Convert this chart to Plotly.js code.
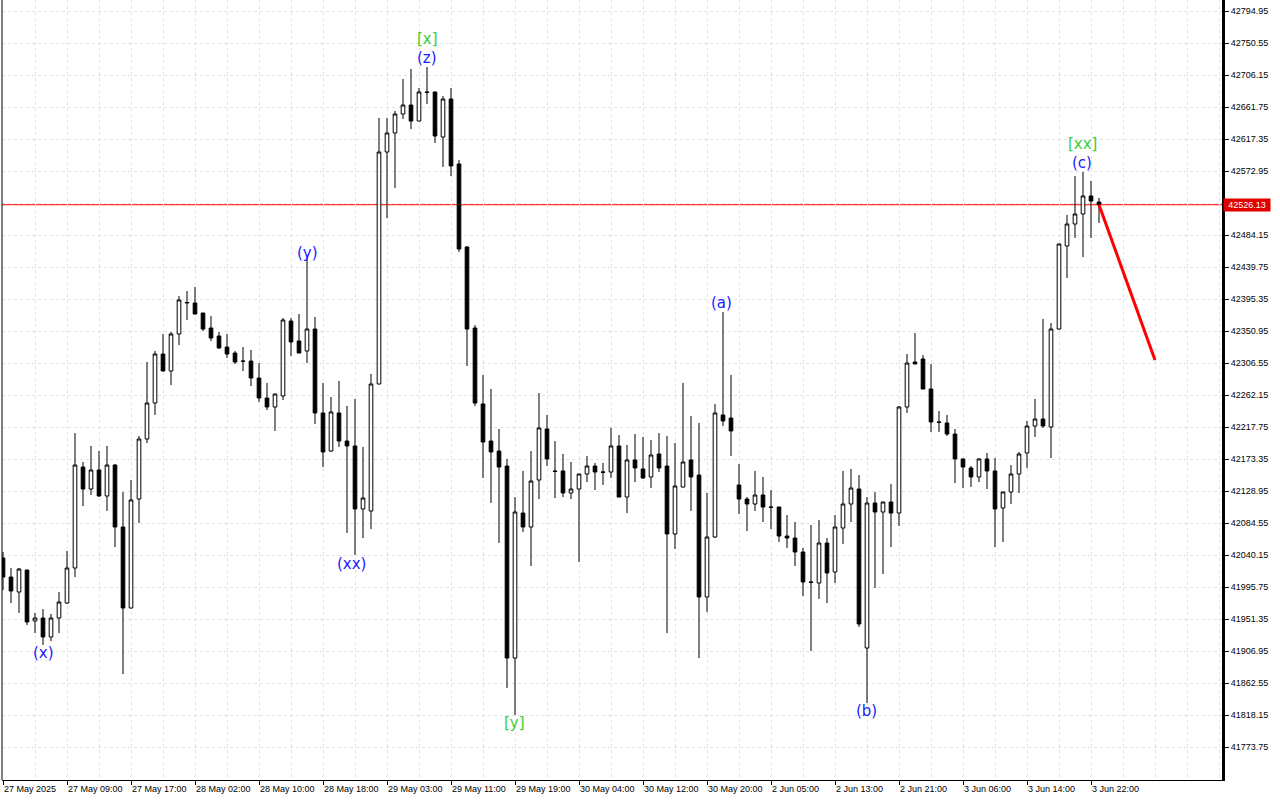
<!DOCTYPE html>
<html>
<head>
<meta charset="utf-8">
<script src="https://cdn.plot.ly/plotly-3.0.1.min.js"></script>
<style>
html,body{margin:0;padding:0;background:#fff;}
#chart{width:1280px;height:800px;}
</style>
</head>
<body>
<div id="chart"></div>
<script>
// ---- data (US30 hourly candles) ----
const openPrices = [
42036.0, 42009.6, 41988.8, 42019.3, 41948.6, 41952.7, 41926.4, 41952.7, 41973.5, 42022.1,
42162.2, 42131.7, 42158.1, 42122.0, 42165.0, 42079.0, 41966.6, 42117.8, 42201.1, 42251.0,
42319.0, 42295.4, 42346.8, 42389.8, 42389.8, 42375.9, 42355.1, 42344.0, 42328.7, 42320.4,
42309.3, 42309.3, 42285.7, 42258.0, 42245.5, 42260.8, 42364.8, 42337.1, 42323.2, 42353.7,
42237.2, 42184.4, 42237.2, 42198.3, 42191.4, 42104.0, 42101.2, 42277.4, 42599.3, 42625.7,
42652.0, 42664.5, 42642.3, 42682.6, 42682.6, 42620.1, 42672.8, 42582.7, 42467.5, 42355.1,
42249.7, 42198.3, 42184.4, 42163.6, 41897.2, 42098.4, 42079.0, 42144.2, 42215.0, 42156.7,
42156.7, 42126.2, 42131.7, 42152.5, 42163.6, 42155.3, 42155.3, 42191.4, 42120.6, 42172.0,
42159.5, 42148.4, 42180.3, 42163.6, 42069.3, 42134.5, 42172.0, 42151.1, 41981.9, 42065.1,
42234.4, 42230.2, 42137.3, 42117.8, 42110.9, 42123.4, 42106.7, 42106.7, 42066.5, 42063.7,
42044.3, 42002.7, 42001.3, 42056.8, 42016.6, 42077.6, 42110.9, 42131.7, 41911.1, 42112.3,
42099.8, 42113.7, 42098.4, 42245.5, 42307.9, 42312.1, 42270.5, 42224.7, 42223.3, 42208.0,
42173.4, 42160.9, 42148.4, 42173.4, 42156.7, 42105.4, 42127.6, 42152.5, 42181.7, 42219.1,
42228.8, 42217.8, 42353.7, 42468.9, 42499.4, 42513.3, 42538.3, 42529.9
];
const highPrices = [
42044.3, 42022.1, 42022.1, 42019.8, 41959.7, 41965.2, 41958.3, 41988.8, 42045.7, 42209.4,
42169.2, 42191.4, 42184.4, 42191.4, 42166.4, 42127.6, 42144.2, 42205.3, 42307.9, 42323.2,
42346.8, 42349.6, 42399.5, 42406.4, 42412.0, 42376.0, 42371.8, 42349.6, 42346.8, 42323.2,
42328.7, 42324.6, 42306.5, 42278.8, 42264.0, 42369.0, 42369.0, 42374.5, 42453.6, 42370.4,
42278.8, 42259.4, 42281.6, 42246.9, 42256.6, 42190.0, 42291.3, 42646.5, 42646.5, 42656.2,
42700.6, 42714.5, 42688.1, 42717.2, 42683.0, 42677.0, 42688.1, 42588.2, 42468.9, 42359.3,
42289.9, 42270.5, 42215.0, 42173.4, 42120.6, 42156.7, 42184.4, 42264.9, 42234.4, 42198.3,
42180.3, 42169.2, 42153.0, 42177.5, 42167.8, 42167.8, 42216.4, 42206.6, 42192.8, 42208.0,
42203.9, 42199.7, 42209.4, 42205.3, 42195.5, 42278.8, 42233.0, 42223.3, 42126.2, 42249.7,
42377.3, 42289.9, 42166.4, 42120.6, 42156.7, 42148.4, 42130.3, 42107.0, 42095.6, 42085.9,
42049.9, 42081.8, 42088.7, 42063.7, 42095.6, 42156.7, 42159.5, 42151.1, 42120.6, 42127.6,
42114.0, 42138.7, 42246.9, 42319.0, 42348.2, 42317.6, 42305.2, 42240.0, 42234.4, 42215.0,
42173.8, 42163.6, 42174.7, 42181.7, 42174.7, 42128.0, 42165.0, 42183.1, 42226.1, 42256.6,
42367.6, 42362.0, 42472.0, 42511.9, 42566.0, 42571.6, 42559.1, 42535.5
];
const lowPrices = [
41991.6, 41973.5, 41959.7, 41943.0, 41931.9, 41915.3, 41920.8, 41931.9, 41972.2, 42009.6,
42108.1, 42123.4, 42121.0, 42101.2, 42051.2, 41875.0, 41966.0, 42084.5, 42195.5, 42234.4,
42295.0, 42276.0, 42331.5, 42366.2, 42374.0, 42351.0, 42337.1, 42326.0, 42313.5, 42305.2,
42295.4, 42274.6, 42252.4, 42241.3, 42212.2, 42255.2, 42316.3, 42320.0, 42306.5, 42221.9,
42162.2, 42183.1, 42190.0, 42070.7, 42040.2, 42063.7, 42076.2, 42277.0, 42507.7, 42549.4,
42645.1, 42631.2, 42642.0, 42665.9, 42611.8, 42578.5, 42566.0, 42460.6, 42302.4, 42246.9,
42147.0, 42112.3, 42056.8, 41855.6, 41818.2, 42072.1, 42024.9, 42117.8, 42163.6, 42119.2,
42120.6, 42117.8, 42030.4, 42141.4, 42130.3, 42137.3, 42147.0, 42120.0, 42098.4, 42141.4,
42145.6, 42133.1, 42155.3, 41931.9, 42048.5, 42134.0, 42101.2, 41897.2, 41961.1, 42063.7,
42219.1, 42177.5, 42097.0, 42073.4, 42101.2, 42085.9, 42076.2, 42058.2, 42049.9, 42024.9,
41983.3, 41907.0, 41979.1, 41973.5, 42001.3, 42055.4, 42085.9, 41940.2, 41834.8, 41994.4,
42013.8, 42051.2, 42080.4, 42237.2, 42305.0, 42270.0, 42210.8, 42210.8, 42205.3, 42140.0,
42133.1, 42134.5, 42141.4, 42131.7, 42051.2, 42058.2, 42110.9, 42126.2, 42160.9, 42203.9,
42216.4, 42174.7, 42353.0, 42424.5, 42480.0, 42453.6, 42480.0, 42500.8
];
const closePrices = [
42009.6, 41990.2, 42020.7, 41947.2, 41952.7, 41926.4, 41952.7, 41974.9, 42022.1, 42165.0,
42131.7, 42158.1, 42122.0, 42165.0, 42079.0, 41966.6, 42116.5, 42201.1, 42251.0, 42319.0,
42295.4, 42346.8, 42394.0, 42390.5, 42374.5, 42353.7, 42341.2, 42327.4, 42319.0, 42307.9,
42309.0, 42285.7, 42258.0, 42245.5, 42263.5, 42366.2, 42335.7, 42320.4, 42353.7, 42237.2,
42183.1, 42238.6, 42198.3, 42191.4, 42104.0, 42119.2, 42277.4, 42599.3, 42625.7, 42652.0,
42664.5, 42642.3, 42682.6, 42682.0, 42621.5, 42672.8, 42579.9, 42464.7, 42353.7, 42251.0,
42196.9, 42183.1, 42162.2, 41897.2, 42099.8, 42079.0, 42142.8, 42216.4, 42173.4, 42156.2,
42126.2, 42131.7, 42152.5, 42163.6, 42155.3, 42155.0, 42191.4, 42120.6, 42172.0, 42160.9,
42147.0, 42178.9, 42160.9, 42069.3, 42135.9, 42169.2, 42148.4, 41981.9, 42065.1, 42237.2,
42226.1, 42212.2, 42117.8, 42110.9, 42123.4, 42106.7, 42106.3, 42066.5, 42063.7, 42044.3,
42002.7, 42002.3, 42056.8, 42015.2, 42079.0, 42110.9, 42133.1, 41944.4, 42112.3, 42099.8,
42113.7, 42098.4, 42245.5, 42306.5, 42305.2, 42270.5, 42224.7, 42224.3, 42208.0, 42173.4,
42162.2, 42148.4, 42173.4, 42156.7, 42104.0, 42127.6, 42152.5, 42180.3, 42219.1, 42228.8,
42219.1, 42353.7, 42471.7, 42499.4, 42513.3, 42538.3, 42531.3, 42526.13
];

// time axis labels (every 8th hourly bar)
const timeLabelBars = [0, 8, 16, 24, 32, 40, 48, 56, 64, 72, 80, 88, 96, 104, 112, 120, 128, 136];
const timeLabels = ["27 May 2025", "27 May 09:00", "27 May 17:00", "28 May 02:00", "28 May 10:00",
  "28 May 18:00", "29 May 03:00", "29 May 11:00", "29 May 19:00", "30 May 04:00", "30 May 12:00",
  "30 May 20:00", "2 Jun 05:00", "2 Jun 13:00", "2 Jun 21:00", "3 Jun 06:00", "3 Jun 14:00", "3 Jun 22:00"];

// price axis labels
const priceTicks = [41773.75, 41818.15, 41862.55, 41906.95, 41951.35, 41995.75, 42040.15, 42084.55,
  42128.95, 42173.35, 42217.75, 42262.15, 42306.55, 42350.95, 42395.35, 42439.75, 42484.15,
  42528.55, 42572.95, 42617.35, 42661.75, 42706.15, 42750.55, 42794.95];

// current price and forecast
const currentPrice = 42526.13;
const forecastBars = [137, 144];
const forecastPrices = [42526.13, 42310.7];

// wave labels
const waveText  = ["(x)", "(y)", "(xx)", "[x]", "(z)", "[y]", "(a)", "(b)", "[xx]", "(c)"];
const waveBar   = [5, 38, 43.6, 53, 53, 63.9, 89.75, 107.9, 134.9, 134.9];
const wavePrice = [41904.2, 42459.2, 42027.7, 42756.1, 42729.7, 41807.0, 42389.8, 41823.7, 42610.4, 42584.0];
const waveLevel = ["minor", "minor", "minor", "major", "minor", "major", "minor", "minor", "major", "minor"];

// ---- chart ----
const barIndex = openPrices.map((_, i) => i);

const candles = {
  type: 'candlestick',
  x: barIndex,
  open: openPrices, high: highPrices, low: lowPrices, close: closePrices,
  increasing: {line: {color: '#000000', width: 1}, fillcolor: '#ffffff'},
  decreasing: {line: {color: '#000000', width: 1}, fillcolor: '#000000'},
  whiskerwidth: 0,
  hoverinfo: 'skip',
  showlegend: false
};

const forecast = {
  type: 'scatter', mode: 'lines',
  x: forecastBars, y: forecastPrices,
  line: {color: '#ff0000', width: 3},
  hoverinfo: 'skip', showlegend: false
};

const annotations = waveText.map((t, i) => ({
  x: waveBar[i], y: wavePrice[i], xref: 'x', yref: 'y',
  text: t, showarrow: false,
  font: {family: 'DejaVu Sans, Verdana, sans-serif', size: 15,
         color: waveLevel[i] === 'major' ? '#3ccc3c' : '#1a1aff'}
}));
annotations.push({
  x: 1, xref: 'paper', xanchor: 'left', xshift: 1,
  y: currentPrice, yref: 'y', yanchor: 'middle',
  text: currentPrice.toFixed(2), showarrow: false,
  bgcolor: '#e00000', borderpad: 1, width: 44, align: 'center',
  font: {family: 'Liberation Sans, Arial, sans-serif', size: 9, color: '#ffffff'}
});

// the tick label next to the current-price box is hidden behind it in the picture
const priceTickText = priceTicks.map(v => Math.abs(v - currentPrice) < 10 ? '' : v.toFixed(2));

const gridStyle = {color: '#e2e2e2', dash: '3px,3px'};

const layout = {
  width: 1280, height: 800,
  margin: {l: 2, r: 58, t: 0, b: 20, pad: 0},
  paper_bgcolor: '#ffffff', plot_bgcolor: '#ffffff',
  boxgap: 0.35,
  showlegend: false,
  xaxis: {
    type: 'linear',
    range: [-0.125, 152.375],
    rangeslider: {visible: false},
    tickmode: 'array', tickvals: timeLabelBars, ticktext: timeLabels,
    ticks: 'outside', ticklen: 4, tickcolor: '#000000', tickwidth: 1,
    ticklabelposition: 'outside right',
    tickfont: {family: 'Liberation Sans, Arial, sans-serif', size: 9, color: '#000000'},
    showgrid: true, gridcolor: gridStyle.color, griddash: gridStyle.dash, gridwidth: 1,
    minor: {tick0: 0, dtick: 4, showgrid: true, gridcolor: gridStyle.color, griddash: gridStyle.dash, ticks: ''},
    showline: true, linecolor: '#000000', linewidth: 1,
    zeroline: false, fixedrange: true
  },
  yaxis: {
    side: 'right',
    range: [41727.96, 42810.21],
    tickmode: 'array', tickvals: priceTicks, ticktext: priceTickText,
    ticks: 'outside', ticklen: 4, tickcolor: '#000000', tickwidth: 1,
    tickfont: {family: 'Liberation Sans, Arial, sans-serif', size: 9, color: '#000000'},
    showgrid: true, gridcolor: gridStyle.color, griddash: gridStyle.dash, gridwidth: 1,
    showline: true, linecolor: '#000000', linewidth: 3,
    zeroline: false, fixedrange: true
  },
  shapes: [
    {type: 'line', xref: 'paper', x0: 0, x1: 1, yref: 'y', y0: currentPrice, y1: currentPrice,
     line: {color: '#ff0000', width: 1}, layer: 'below'},
    {type: 'line', xref: 'paper', x0: 0, x1: 0, yref: 'paper', y0: 0, y1: 1,
     line: {color: '#000000', width: 1}}
  ],
  annotations: annotations
};

Plotly.newPlot('chart', [candles, forecast], layout, {displayModeBar: false, staticPlot: true});
</script>
</body>
</html>
